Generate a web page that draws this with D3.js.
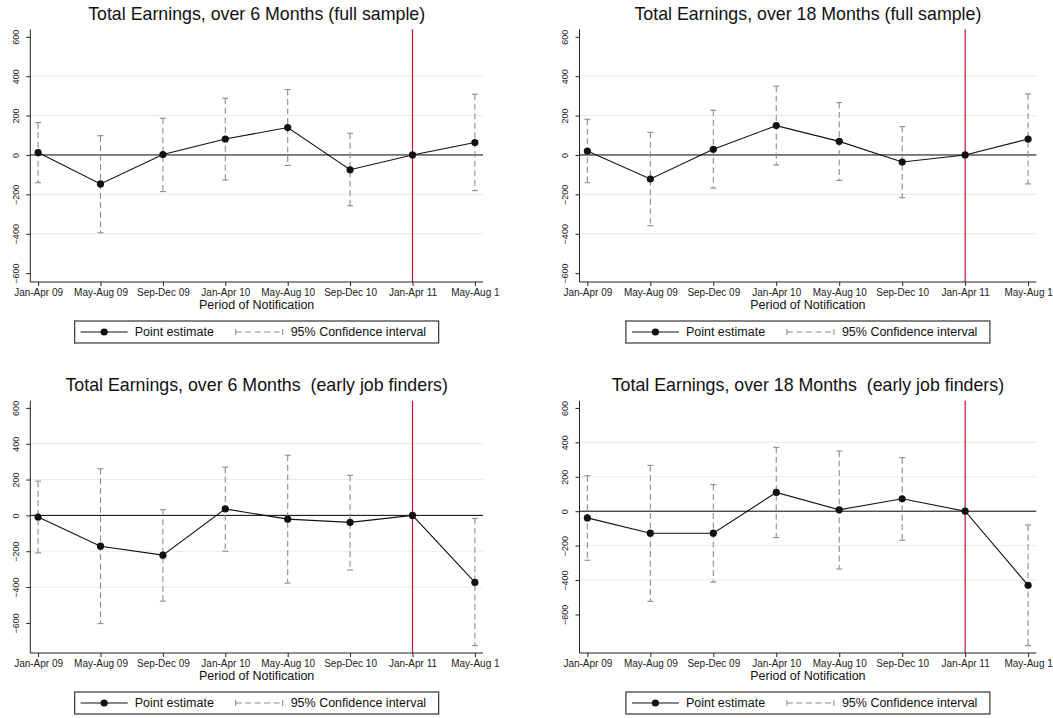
<!DOCTYPE html>
<html>
<head>
<meta charset="utf-8">
<script src="https://cdn.jsdelivr.net/npm/d3@7"></script>
<style>
  html, body { margin: 0; padding: 0; background: #fff; }
  svg { display: block; font-family: "Liberation Sans", Arial, sans-serif; }
  .ttl { white-space: pre; }
</style>
</head>
<body>
<svg id="chart" width="1053" height="718"></svg>
<script>
// ---------- data ----------
const categories = ["Jan-Apr 09","May-Aug 09","Sep-Dec 09","Jan-Apr 10","May-Aug 10","Sep-Dec 10","Jan-Apr 11","May-Aug 1"];
const yTickValues = [600, 400, 200, 0, -200, -400, -600];
const gridValues = [400, 200, -200, -400];
const referencePeriod = "Jan-Apr 11";

const titles = [
  "Total Earnings, over 6 Months (full sample)",
  "Total Earnings, over 18 Months (full sample)",
  "Total Earnings, over 6 Months  (early job finders)",
  "Total Earnings, over 18 Months  (early job finders)"
];
const xAxisTitle = "Period of Notification";
const legendLabels = ["Point estimate", "95% Confidence interval"];

const est6Full   = [12, -147, 2, 81, 139, -75, 0, 63];
const hi6Full    = [164, 98, 186, 288, 332, 110, null, 308];
const lo6Full    = [-141, -395, -186, -127, -53, -258, null, -181];

const est18Full  = [20, -122, 29, 149, 69, -36, 0, 81];
const hi18Full   = [181, 115, 227, 349, 266, 144, null, 310];
const lo18Full   = [-141, -359, -168, -51, -129, -217, null, -147];

const est6Early  = [-9, -172, -222, 36, -21, -39, 0, -374];
const hi6Early   = [191, 260, 32, 269, 336, 224, null, -17];
const lo6Early   = [-209, -604, -479, -200, -378, -305, null, -727];

const est18Early = [-39, -128, -128, 109, 8, 72, 0, -431];
const hi18Early  = [206, 266, 155, 371, 350, 311, null, -80];
const lo18Early  = [-285, -524, -412, -153, -336, -169, null, -781];

const yDomains = [[-645, 638], [-645, 638], [-768, 640], [-824, 642]];

// ---------- layout ----------
const panels = [
  { est: est6Full,   hi: hi6Full,   lo: lo6Full,   left: 30.3,  right: 483,    top: 29.3,  bottom: 282 },
  { est: est18Full,  hi: hi18Full,  lo: lo18Full,  left: 579.5, right: 1036.3, top: 29.3,  bottom: 282 },
  { est: est6Early,  hi: hi6Early,  lo: lo6Early,  left: 30.3,  right: 483,    top: 400.7, bottom: 653 },
  { est: est18Early, hi: hi18Early, lo: lo18Early, left: 579.5, right: 1036.3, top: 400.7, bottom: 653 }
];

const svg = d3.select("#chart");
const ciColor = "#8c8c8c";
const redColor = "#c8102e";
const gridColor = "#e4edef";

panels.forEach((p, i) => {
  const g = svg.append("g");
  const x = d3.scaleLinear().domain([-0.125, 7.13]).range([p.left, p.right]);
  const y = d3.scaleLinear().domain(yDomains[i]).range([p.bottom, p.top]);
  const cx = (p.left + p.right) / 2;

  // gridlines
  g.selectAll(".grid").data(gridValues).enter().append("line")
    .attr("x1", p.left).attr("x2", p.right)
    .attr("y1", d => y(d)).attr("y2", d => y(d))
    .attr("stroke", gridColor).attr("stroke-width", 1);

  // zero line
  g.append("line")
    .attr("x1", p.left).attr("x2", p.right)
    .attr("y1", y(0)).attr("y2", y(0))
    .attr("stroke", "#000").attr("stroke-width", 1);

  // red reference line
  const ri = categories.indexOf(referencePeriod);
  g.append("line")
    .attr("x1", x(ri)).attr("x2", x(ri))
    .attr("y1", p.top).attr("y2", p.bottom)
    .attr("stroke", redColor).attr("stroke-width", 1.2);

  // CIs
  const ciData = categories.map((c, k) => ({ k, hi: p.hi[k], lo: p.lo[k] })).filter(d => d.hi !== null);
  const ci = g.selectAll(".ci").data(ciData).enter().append("g");
  ci.append("line")
    .attr("x1", d => x(d.k)).attr("x2", d => x(d.k))
    .attr("y1", d => y(d.hi)).attr("y2", d => y(d.lo))
    .attr("stroke", ciColor).attr("stroke-width", 1.1)
    .attr("stroke-dasharray", "6,3.5");
  ci.append("line")
    .attr("x1", d => x(d.k) - 3).attr("x2", d => x(d.k) + 3)
    .attr("y1", d => y(d.hi)).attr("y2", d => y(d.hi))
    .attr("stroke", ciColor).attr("stroke-width", 1.1);
  ci.append("line")
    .attr("x1", d => x(d.k) - 3).attr("x2", d => x(d.k) + 3)
    .attr("y1", d => y(d.lo)).attr("y2", d => y(d.lo))
    .attr("stroke", ciColor).attr("stroke-width", 1.1);

  // estimate line + points
  const line = d3.line().x((d, k) => x(k)).y(d => y(d));
  g.append("path").datum(p.est)
    .attr("d", line).attr("fill", "none")
    .attr("stroke", "#111").attr("stroke-width", 1.1);
  g.selectAll(".pt").data(p.est).enter().append("circle")
    .attr("cx", (d, k) => x(k)).attr("cy", d => y(d))
    .attr("r", 3.6).attr("fill", "#111");

  // y axis
  const yAxis = d3.axisLeft(y).tickValues(yTickValues).tickSize(4).tickFormat(d3.format("d"));
  const ya = g.append("g").attr("transform", `translate(${p.left},0)`).call(yAxis);
  ya.select(".domain").attr("d", `M0,${p.bottom}V${p.top}`).attr("stroke", "#222");
  ya.selectAll(".tick line").attr("stroke", "#222");
  ya.selectAll(".tick text")
    .attr("x", 0).attr("dy", 0)
    .attr("transform", "translate(-14.5,0) rotate(-90)")
    .attr("text-anchor", "middle")
    .attr("dominant-baseline", "central")
    .attr("font-size", 9).attr("fill", "#222")
    .attr("font-family", "Liberation Sans, Arial, sans-serif");

  // x axis
  const xAxis = d3.axisBottom(x).tickValues(d3.range(categories.length))
    .tickFormat(k => categories[k]).tickSize(4);
  const xa = g.append("g").attr("transform", `translate(0,${p.bottom})`).call(xAxis);
  xa.select(".domain").attr("d", `M${p.left},0H${p.right}`).attr("stroke", "#222");
  xa.selectAll(".tick line").attr("stroke", "#222");
  xa.selectAll(".tick text")
    .attr("y", 14).attr("dy", 0)
    .attr("font-size", 10).attr("fill", "#222")
    .attr("font-family", "Liberation Sans, Arial, sans-serif");

  // axis title
  g.append("text").attr("x", cx).attr("y", p.bottom + 27)
    .attr("text-anchor", "middle").attr("font-size", 12.5).attr("fill", "#111")
    .text(xAxisTitle);

  // title
  g.append("text").attr("class", "ttl").attr("x", cx).attr("y", p.top - 9.5)
    .attr("xml:space", "preserve")
    .attr("text-anchor", "middle").attr("font-size", 17.8).attr("fill", "#111")
    .text(titles[i]);

  // legend
  const lw = 364, lh = 22;
  const lx = cx - lw / 2, ly = p.bottom + 39;
  const lg = g.append("g").attr("transform", `translate(${lx},${ly})`);
  lg.append("rect").attr("width", lw).attr("height", lh)
    .attr("fill", "#fff").attr("stroke", "#444").attr("stroke-width", 1.3);
  lg.append("line").attr("x1", 6).attr("x2", 53).attr("y1", lh / 2).attr("y2", lh / 2)
    .attr("stroke", "#111").attr("stroke-width", 1.1);
  lg.append("circle").attr("cx", 29.5).attr("cy", lh / 2).attr("r", 3.6).attr("fill", "#111");
  lg.append("text").attr("x", 60).attr("y", lh / 2).attr("dominant-baseline", "central")
    .attr("font-size", 12.5).attr("fill", "#111").text(legendLabels[0]);
  lg.append("line").attr("x1", 161).attr("x2", 208).attr("y1", lh / 2).attr("y2", lh / 2)
    .attr("stroke", ciColor).attr("stroke-width", 1.1).attr("stroke-dasharray", "6,3.5");
  [161, 208].forEach(xx => lg.append("line").attr("x1", xx).attr("x2", xx)
    .attr("y1", lh / 2 - 3).attr("y2", lh / 2 + 3).attr("stroke", ciColor).attr("stroke-width", 1.1));
  lg.append("text").attr("x", 216).attr("y", lh / 2).attr("dominant-baseline", "central")
    .attr("font-size", 12.5).attr("fill", "#111").text(legendLabels[1]);
});
</script>
</body>
</html>
